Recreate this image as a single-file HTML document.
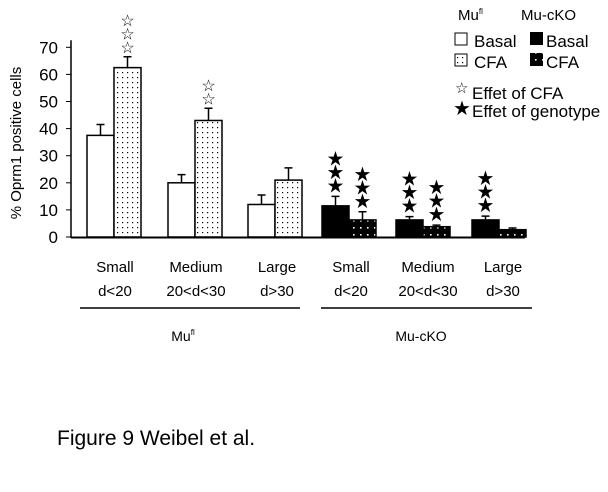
<!DOCTYPE html>
<html><head><meta charset="utf-8"><style>
body{margin:0;background:#fff;width:608px;height:487px;overflow:hidden}
svg{font-family:"Liberation Sans",Arial,sans-serif}
</style></head><body>
<svg id="chart" width="608" height="487" viewBox="0 0 608 487">
<defs>
<pattern id="dotW" width="5" height="5" patternUnits="userSpaceOnUse"><rect width="5" height="5" fill="#fff"/><rect x="2" y="2" width="1.2" height="1.2" fill="#000"/></pattern>
<pattern id="dotB" width="7" height="7" patternUnits="userSpaceOnUse"><rect width="7" height="7" fill="#000"/><rect x="3" y="3" width="1.6" height="1.6" fill="#fff"/></pattern>
</defs>
<g id="axis"></g>
<g id="bars"></g>
<g font-size="15" text-anchor="middle" fill="#000">
<text x="115" y="272">Small</text><text x="115" y="296">d&lt;20</text>
<text x="196" y="272">Medium</text><text x="196" y="296">20&lt;d&lt;30</text>
<text x="277" y="272">Large</text><text x="277" y="296">d&gt;30</text>
<text x="351" y="272">Small</text><text x="351" y="296">d&lt;20</text>
<text x="428" y="272">Medium</text><text x="428" y="296">20&lt;d&lt;30</text>
<text x="503" y="272">Large</text><text x="503" y="296">d&gt;30</text>
</g>
<line x1="80" y1="308" x2="300" y2="308" stroke="#000" stroke-width="1.5"/>
<line x1="321" y1="308" x2="532" y2="308" stroke="#000" stroke-width="1.5"/>
<text x="183" y="341" font-size="14" text-anchor="middle">Mu<tspan font-size="8" dy="-6">fl</tspan></text>
<text x="421" y="341" font-size="14" text-anchor="middle">Mu-cKO</text>
<text transform="translate(21,143) rotate(-90)" font-size="15" text-anchor="middle">% Oprm1 positive cells</text>
<g font-size="17">
<text x="458" y="20" font-size="15">Mu<tspan font-size="8" dy="-6">fl</tspan></text>
<text x="521" y="20" font-size="15">Mu-cKO</text>
<rect x="455" y="33" width="12" height="12" fill="#fff" stroke="#000"/>
<text x="474" y="47">Basal</text>
<rect x="455" y="54" width="12" height="12" fill="url(#dotW)" stroke="#000"/>
<text x="474" y="68">CFA</text>
<rect x="530" y="32" width="13" height="13" fill="#000"/>
<text x="546" y="47">Basal</text>
<rect x="530" y="53" width="13" height="13" fill="url(#dotB)"/>
<text x="546" y="68">CFA</text>
<text x="455" y="93" font-size="15">☆</text><text x="472" y="99">Effet of CFA</text>
<text x="453" y="115" font-size="20">★</text><text x="472" y="117">Effet of genotype</text>
</g>
<text x="57" y="445" font-size="21">Figure 9 Weibel et al.</text>
</svg>
<script>
const categories=["Small Mufl","Medium Mufl","Large Mufl","Small cKO","Medium cKO","Large cKO"];
const basalValues=[37.5,20,12,11.5,6.3,6.3];
const basalErrors=[4,3,3.5,3.5,1.2,1.4];
const cfaValues=[62.5,43,21,6.3,3.8,2.7];
const cfaErrors=[4,4.5,4.5,3,0.6,0.6];
const basalStars=[0,0,0,3,3,3];
const cfaStars=[3,2,0,3,3,0];
const yTicks=[0,10,20,30,40,50,60,70];
const groupCenters=[114,195,275,349,423,499];
const NS="http://www.w3.org/2000/svg";
const y=v=>237-v*2.71;
function mk(tag,attrs,parent){const e=document.createElementNS(NS,tag);for(const k in attrs)e.setAttribute(k,attrs[k]);parent.appendChild(e);return e;}
const ax=document.getElementById('axis'),bars=document.getElementById('bars');
let l=mk('line',{x1:71,y1:y(70)-7,x2:71,y2:238,stroke:'#000','stroke-width':1.5},ax);


l=mk('line',{x1:71,y1:237.5,x2:525,y2:237.5,stroke:'#000','stroke-width':2},ax);


yTicks.forEach(t=>{
 const tk=mk('line',{x1:66,y1:y(t),x2:71,y2:y(t),stroke:'#000'},ax);
 
 
 const tx=mk('text',{x:58,y:y(t)+6,'font-size':17,'text-anchor':'end'},ax);
 tx.textContent=t;
 
 
});
const bw=27;
function bar(x,v,e,fill,stars,filled,name){
 const r=mk('rect',{x:x,y:y(v),width:bw,height:y(0)-y(v),fill:fill,stroke:'#000','stroke-width':1.5},bars);
 
 
 const cx=x+bw/2;
 const eb=mk('path',{d:`M${cx} ${y(v)}V${y(v+e)}M${cx-4} ${y(v+e)}H${cx+4}`,stroke:'#000','stroke-width':1.5,fill:'none'},bars);
 
 
 for(let i=0;i<stars;i++){
  const s=mk('text',{x:cx,y:y(v+e)-4-i*13.5,'font-size':filled?20:16,'text-anchor':'middle'},bars);
  s.textContent=filled?'★':'☆';
  
  
 }
}
categories.forEach((c,i)=>{
 const ko=i>=3,cx=groupCenters[i];
 bar(cx-bw,basalValues[i],basalErrors[i],ko?'#000':'#fff',basalStars[i],true,'bar-basal-'+i);
 bar(cx,cfaValues[i],cfaErrors[i],ko?'url(#dotB)':'url(#dotW)',cfaStars[i],ko,'bar-cfa-'+i);
});
</script>
</body></html>
